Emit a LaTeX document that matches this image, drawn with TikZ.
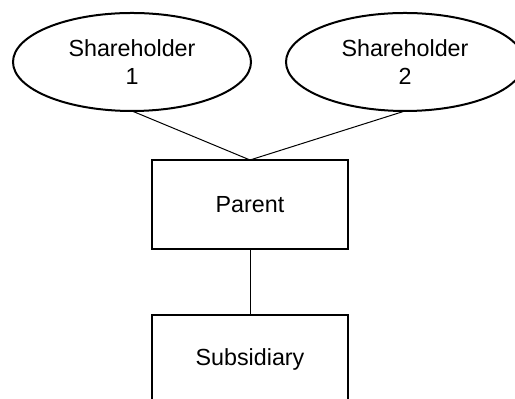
\documentclass[tikz,border=0pt]{standalone}
\usepackage{fontspec}
\setmainfont{Liberation Sans}
\usetikzlibrary{shapes.geometric}
\begin{document}
\begin{tikzpicture}[x=0.5pt,y=-0.5pt,
  txt/.style={font=\fontsize{11.65}{14}\selectfont, align=center, inner sep=0pt, outer sep=0pt},
  holder/.style={txt, draw, ellipse, line width=1pt, minimum width=119pt, minimum height=49pt},
  entity/.style={txt, draw, rectangle, line width=1pt, minimum width=98pt, minimum height=44.5pt},
  link/.style={line width=0.5pt}]
\useasboundingbox (0,0) rectangle (515,399);
\clip (0,0) rectangle (515,399);
\fill[white] (0,0) rectangle (515,399);
\node[holder] (s1) at (132,62) {Shareholder\\1};
\node[holder] (s2) at (405,62) {Shareholder\\2};
\node[entity] (p) at (250,204.5) {Parent};
\node[entity] (sub) at (250,359.5) {Subsidiary};
\draw[link] (s1.south) -- (p.north);
\draw[link] (s2.south) -- (p.north);
\draw[link] (p.south) -- (sub.north);
\end{tikzpicture}
\end{document}
